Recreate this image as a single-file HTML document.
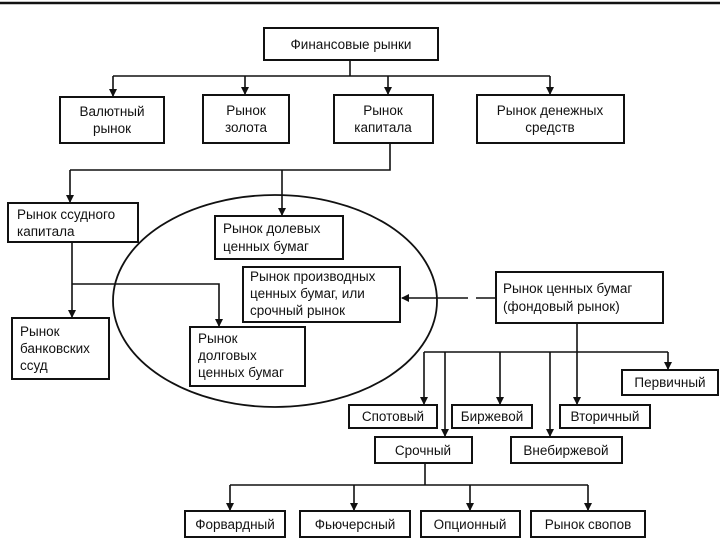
<!DOCTYPE html>
<html><head><meta charset="utf-8"><style>
body{margin:0;background:#fff;}
svg{display:block;font-family:"Liberation Sans",Arial,sans-serif;font-size:13.5px;}
rect{fill:#fff;stroke:#111;stroke-width:2}
line,polyline{stroke:#111;stroke-width:1.6;fill:none}
text{fill:#111}
</style></head><body>
<svg width="720" height="540" viewBox="0 0 720 540">
<defs><marker id="a" markerWidth="8" markerHeight="11" refX="7" refY="4" orient="auto" markerUnits="userSpaceOnUse"><path d="M0,0 L8,4 L0,8 z" fill="#111"/></marker></defs>
<line x1="0" y1="3" x2="720" y2="3" style="stroke-width:2.5"/>
<ellipse cx="275" cy="301" rx="162" ry="106" fill="none" stroke="#111" stroke-width="1.8"/>
<line x1="350" y1="60" x2="350" y2="76"/>
<line x1="113" y1="76" x2="550" y2="76"/>
<line x1="113" y1="76" x2="113" y2="96" marker-end="url(#a)"/>
<line x1="245" y1="76" x2="245" y2="94" marker-end="url(#a)"/>
<line x1="388" y1="76" x2="388" y2="94" marker-end="url(#a)"/>
<line x1="550" y1="76" x2="550" y2="94" marker-end="url(#a)"/>
<polyline points="390,143 390,170 70,170"/>
<line x1="70" y1="170" x2="70" y2="202" marker-end="url(#a)"/>
<line x1="282" y1="170" x2="282" y2="215" marker-end="url(#a)"/>
<line x1="72" y1="242" x2="72" y2="317" marker-end="url(#a)"/>
<polyline points="72,284 219,284 219,326" marker-end="url(#a)"/>
<line x1="496" y1="298" x2="402" y2="298" stroke-dasharray="20,8,200" marker-end="url(#a)"/>
<line x1="577" y1="323" x2="577" y2="404" marker-end="url(#a)"/>
<line x1="424" y1="352" x2="668" y2="352"/>
<line x1="424" y1="352" x2="424" y2="404" marker-end="url(#a)"/>
<line x1="445" y1="352" x2="445" y2="436" marker-end="url(#a)"/>
<line x1="500" y1="352" x2="500" y2="404" marker-end="url(#a)"/>
<line x1="550" y1="352" x2="550" y2="436" marker-end="url(#a)"/>
<line x1="668" y1="352" x2="668" y2="369" marker-end="url(#a)"/>
<line x1="425" y1="463" x2="425" y2="485"/>
<line x1="230" y1="485" x2="588" y2="485"/>
<line x1="230" y1="485" x2="230" y2="510" marker-end="url(#a)"/>
<line x1="354" y1="485" x2="354" y2="510" marker-end="url(#a)"/>
<line x1="470" y1="485" x2="470" y2="510" marker-end="url(#a)"/>
<line x1="588" y1="485" x2="588" y2="510" marker-end="url(#a)"/>
<rect x="264" y="28" width="174" height="32"/><text x="351" y="49" text-anchor="middle">Финансовые рынки</text>
<rect x="60" y="97" width="104" height="46"/><text x="112" y="116" text-anchor="middle">Валютный</text><text x="112" y="133" text-anchor="middle">рынок</text>
<rect x="203" y="95" width="86" height="48"/><text x="246" y="115" text-anchor="middle">Рынок</text><text x="246" y="132" text-anchor="middle">золота</text>
<rect x="334" y="95" width="99" height="48"/><text x="383" y="115" text-anchor="middle">Рынок</text><text x="383" y="132" text-anchor="middle">капитала</text>
<rect x="477" y="95" width="147" height="48"/><text x="550" y="115" text-anchor="middle">Рынок денежных</text><text x="550" y="132" text-anchor="middle">средств</text>
<rect x="8" y="203" width="130" height="39"/><text x="17" y="219">Рынок ссудного</text><text x="17" y="236">капитала</text>
<rect x="215" y="216" width="128" height="43"/><text x="223" y="233">Рынок долевых</text><text x="223" y="251">ценных бумаг</text>
<rect x="243" y="267" width="157" height="55"/><text x="250" y="281">Рынок производных</text><text x="250" y="298">ценных бумаг, или</text><text x="250" y="315">срочный рынок</text>
<rect x="496" y="272" width="167" height="51"/><text x="503" y="293">Рынок ценных бумаг</text><text x="503" y="311">(фондовый рынок)</text>
<rect x="12" y="318" width="97" height="61"/><text x="20" y="336">Рынок</text><text x="20" y="353">банковских</text><text x="20" y="370">ссуд</text>
<rect x="190" y="327" width="115" height="59"/><text x="198" y="343">Рынок</text><text x="198" y="360">долговых</text><text x="198" y="377">ценных бумаг</text>
<rect x="622" y="370" width="96" height="25"/><text x="670" y="387" text-anchor="middle">Первичный</text>
<rect x="349" y="405" width="88" height="23"/><text x="393" y="421" text-anchor="middle">Спотовый</text>
<rect x="452" y="405" width="80" height="23"/><text x="492" y="421" text-anchor="middle">Биржевой</text>
<rect x="560" y="405" width="90" height="23"/><text x="605" y="421" text-anchor="middle">Вторичный</text>
<rect x="375" y="437" width="97" height="26"/><text x="423" y="455" text-anchor="middle">Срочный</text>
<rect x="511" y="437" width="111" height="26"/><text x="566" y="455" text-anchor="middle">Внебиржевой</text>
<rect x="185" y="511" width="100" height="26"/><text x="235" y="529" text-anchor="middle">Форвардный</text>
<rect x="300" y="511" width="110" height="26"/><text x="355" y="529" text-anchor="middle">Фьючерсный</text>
<rect x="421" y="511" width="99" height="26"/><text x="470" y="529" text-anchor="middle">Опционный</text>
<rect x="531" y="511" width="114" height="26"/><text x="588" y="529" text-anchor="middle">Рынок свопов</text>
</svg>
</body></html>
